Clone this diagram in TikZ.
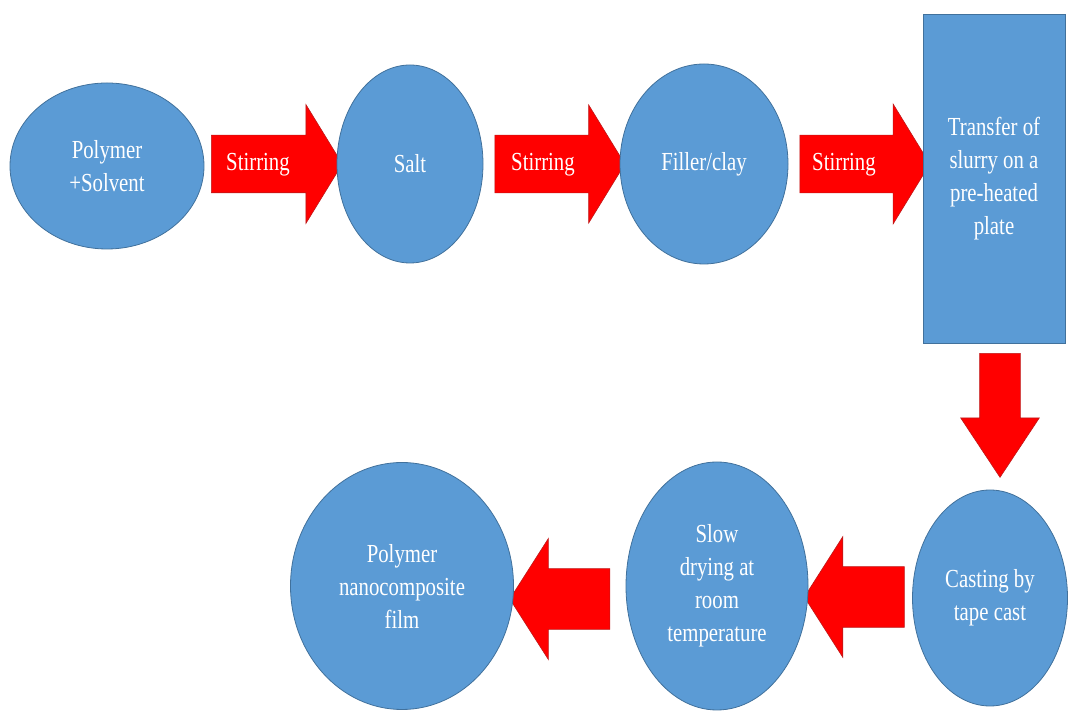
\documentclass[tikz,border=0pt]{standalone}
\usepackage{fontspec}
\setmainfont{Liberation Serif}[FakeStretch=0.8]
\usetikzlibrary{shapes.geometric,shapes.arrows,positioning}
\definecolor{stepblue}{RGB}{91,155,213}
\definecolor{stepedge}{RGB}{65,113,156}
\definecolor{pushred}{RGB}{255,0,0}
\definecolor{pushedge}{RGB}{190,25,25}
\begin{document}
\begin{tikzpicture}[
  x=1pt, y=1pt,
  blob/.style={ellipse, draw=stepedge, fill=stepblue, line width=0.8pt, text=white, align=center, inner sep=0pt},
  block/.style={rectangle, draw=stepedge, fill=stepblue, line width=0.8pt, text=white, align=center},
  push/.style={single arrow, draw=pushedge, fill=pushred, line width=0.6pt, text=white,
    inner xsep=2pt, text height=19pt, text depth=6pt},
  font=\fontsize{26}{33}\selectfont
]
\useasboundingbox (0,0) rectangle (1070,711);

% Mixing row
\node[blob, minimum width=194pt, minimum height=166pt] (poly) at (107,545) {Polymer\\+Solvent};
\node[push, right of=poly, node distance=161pt, yshift=2pt, minimum height=131pt, minimum width=118pt, inner ysep=16pt,
  single arrow head extend=30.5pt, single arrow tip angle=117] (stir1) {Stirring\hspace*{20pt}};
\node[blob, right of=stir1, node distance=142pt, minimum width=146pt, minimum height=198pt] (salt) {Salt};
\node[push, right of=salt, node distance=141pt, minimum height=130pt, minimum width=118pt, inner ysep=16pt,
  single arrow head extend=30pt, single arrow tip angle=117] (stir2) {Stirring\hspace*{16pt}};
\node[blob, right of=stir2, node distance=153pt, minimum width=168pt, minimum height=200pt] (filler) {Filler/clay};
\node[push, right of=filler, node distance=152pt, minimum height=130pt, minimum width=120pt, inner ysep=16pt,
  single arrow head extend=31pt, single arrow tip angle=117] (stir3) {Stirring\hspace*{24pt}};
\node[block, right of=stir3, node distance=138pt, yshift=-14.5pt, minimum width=142pt, minimum height=329pt] (plate)
  {Transfer of\\slurry on a\\pre-heated\\plate};

% Casting and drying
\node[push, below of=plate, node distance=221.5pt, xshift=6pt, minimum height=124pt, minimum width=78pt,
  inner sep=20pt, text height=0pt, text depth=0pt,
  single arrow head extend=19pt, single arrow tip angle=67, shape border rotate=270] (pour) {};
\node[blob, below of=pour, node distance=198pt, xshift=-10pt, minimum width=155pt, minimum height=216pt] (cast)
  {Casting by\\tape cast};
\node[push, left of=cast, node distance=126pt, yshift=1pt, minimum height=100pt, minimum width=119pt,
  inner sep=30pt, text height=0pt, text depth=0pt,
  single arrow head extend=30pt, single arrow tip angle=115, shape border rotate=180] (dry1) {};
\node[blob, left of=dry1, node distance=147pt, yshift=11pt, minimum width=182pt, minimum height=248pt] (slow)
  {Slow\\drying at\\room\\temperature};
\node[push, left of=slow, node distance=147.5pt, yshift=-13pt, minimum height=100pt, minimum width=121pt,
  inner sep=30pt, text height=0pt, text depth=0pt,
  single arrow head extend=30pt, single arrow tip angle=115, shape border rotate=180] (dry2) {};
\node[blob, left of=dry2, node distance=167.5pt, yshift=13pt, minimum width=223pt, minimum height=247pt] (film)
  {Polymer\\nanocomposite\\film};
\end{tikzpicture}
\end{document}
